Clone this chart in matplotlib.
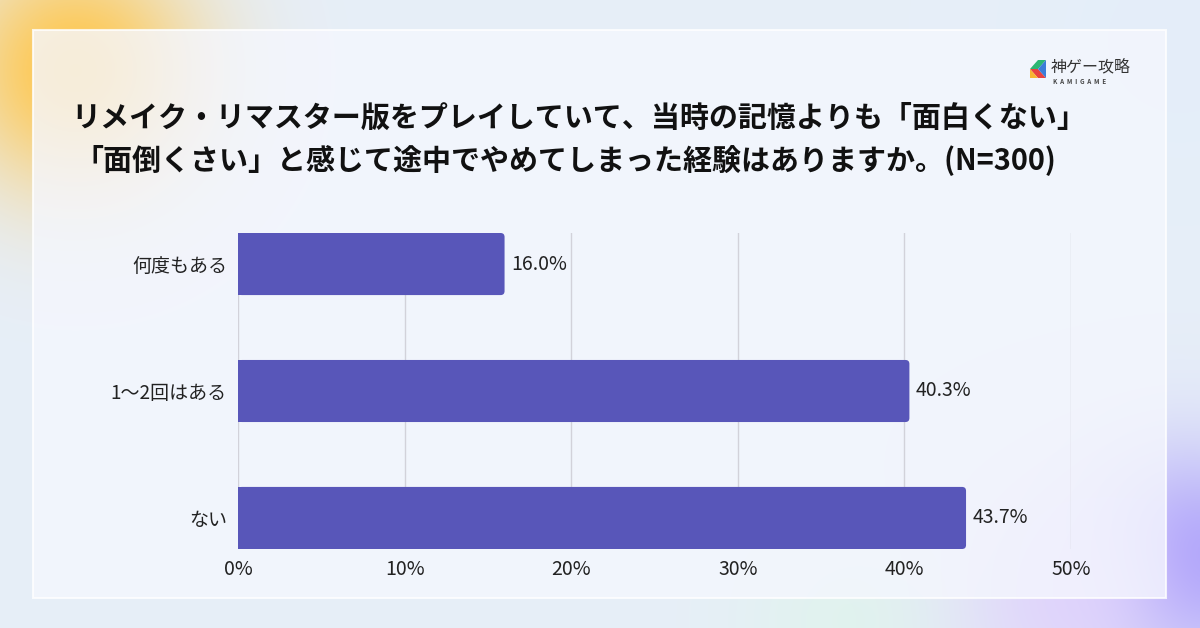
import numpy as np
import matplotlib
matplotlib.use("Agg")
import matplotlib.pyplot as plt
from matplotlib.patches import FancyBboxPatch, Rectangle, Polygon

plt.rcParams['font.family'] = ['Noto Sans CJK JP', 'DejaVu Sans']

# ---- data ----
categories = ["何度もある", "1〜2回はある", "ない"]
values = [16.0, 40.3, 43.7]
xticks = [0, 10, 20, 30, 40, 50]
xtick_labels = ["0%", "10%", "20%", "30%", "40%", "50%"]
title_lines = ["リメイク・リマスター版をプレイしていて、当時の記憶よりも「面白くない」",
               "「面倒くさい」と感じて途中でやめてしまった経験はありますか。(N=300)"]

W, H = 1200, 628
fig = plt.figure(figsize=(W / 100, H / 100), dpi=100)

# ---- background with soft blobs ----
bg = fig.add_axes([0, 0, 1, 1])
bg.set_axis_off()
yy, xx = np.mgrid[0:H, 0:W]
img = np.ones((H, W, 3)) * np.array([0.905, 0.935, 0.972])

def blob(cx, cy, r, color, strength):
    g = np.exp(-(((xx - cx) ** 2 + (yy - cy) ** 2) / (2 * r ** 2))) * strength
    return g[..., None] * (np.array(color) - img)

img += blob(75, 70, 85, [1.0, 0.78, 0.30], 1.0)
img += blob(1190, 560, 75, [0.66, 0.62, 0.98], 1.0)
img += blob(1060, 600, 90, [0.88, 0.82, 0.99], 0.8)
img += blob(850, 620, 80, [0.86, 0.97, 0.90], 0.5)
img += blob(1180, 40, 120, [0.88, 0.93, 0.99], 0.4)
img = np.clip(img, 0, 1)
bg.imshow(img, extent=[0, W, H, 0], aspect='auto', interpolation='bilinear')
bg.set_xlim(0, W)
bg.set_ylim(H, 0)

# card
card = Rectangle((33, 30), 1133, 568, facecolor='#f5f7fe', edgecolor='#ffffff',
                 linewidth=1.5, alpha=0.80)
bg.add_patch(card)

# ---- title ----
fig.text(579 / W, 1 - 118 / H, title_lines[0], ha='center', va='center',
         fontsize=20.9, fontweight='bold', color='#111111')
fig.text(565 / W, 1 - 160 / H, title_lines[1], ha='center', va='center',
         fontsize=20.9, fontweight='bold', color='#111111')

# ---- logo ----
ix, iy = 1030, 60
tri = [
    ([(ix, iy + 9), (ix + 8, iy), (ix + 16, iy), (ix + 8, iy + 9)], '#2bb673'),
    ([(ix, iy + 9), (ix + 8, iy + 9), (ix + 16, iy + 18), (ix + 8, iy + 18)], '#e8423f'),
    ([(ix + 8, iy + 9), (ix + 16, iy), (ix + 16, iy + 18)], '#3b7dd8'),
    ([(ix, iy + 9), (ix + 8, iy + 18), (ix, iy + 18)], '#f7b531'),
]
for pts, c in tri:
    bg.add_patch(Polygon(pts, closed=True, facecolor=c, edgecolor='none'))
fig.text(1051 / W, 1 - 67 / H, "神ゲー攻略", ha='left', va='center', fontsize=11.5,
         color='#333333')
fig.text(1053 / W, 1 - 81 / H, "K  A  M  I  G  A  M  E", ha='left', va='center',
         fontsize=4.5, color='#444444', fontweight='bold')

# ---- chart ----
ax_left, ax_right = 238 / W, 1071 / W
ax_top, ax_bot = 233 / H, 549 / H
ax = fig.add_axes([ax_left, 1 - ax_bot, ax_right - ax_left, ax_bot - ax_top])
ax.set_facecolor('none')

bar_h = 62 / 126.8
y = np.arange(len(categories))
bars = ax.barh(y, values, height=bar_h, color='none')
ax.set_xlim(0, 50)
ax.set_ylim(len(categories) - 1 + bar_h / 2, -bar_h / 2)

# rounded bars
px_per_x = (1071 - 238) / 50
px_per_y = (549 - 233) / (len(categories) - 1 + bar_h)
r = 4 / px_per_x
for b in bars:
    x0, y0 = b.get_x(), b.get_y()
    w, h = b.get_width(), b.get_height()
    p = FancyBboxPatch((x0, y0), w, h,
                       boxstyle=f"round,pad=0,rounding_size={r}",
                       mutation_aspect=px_per_x / px_per_y,
                       facecolor='#5856b9', edgecolor='none', zorder=3)
    ax.add_patch(p)
    ax.add_patch(Rectangle((x0, y0), min(w, 1), h, facecolor='#5856b9',
                           edgecolor='none', zorder=3))

for yi, v in zip(y, values):
    ax.text(v + 0.4, yi, f"{v:.1f}%", va='center', ha='left', fontsize=14,
            color='#222222')

ax.set_xticks(xticks)
ax.set_xticklabels(xtick_labels, fontsize=14, color='#222222')
ax.set_yticks(y)
ax.set_yticklabels(categories, fontsize=13.7, color='#222222')
ax.tick_params(axis='both', length=0)
ax.tick_params(axis='x', pad=7)
ax.tick_params(axis='y', pad=8)
ax.grid(axis='x', color='#d2d2da', linewidth=1)
ax.set_axisbelow(True)
for s in ax.spines.values():
    s.set_visible(False)

fig.savefig("out.png", dpi=100)
